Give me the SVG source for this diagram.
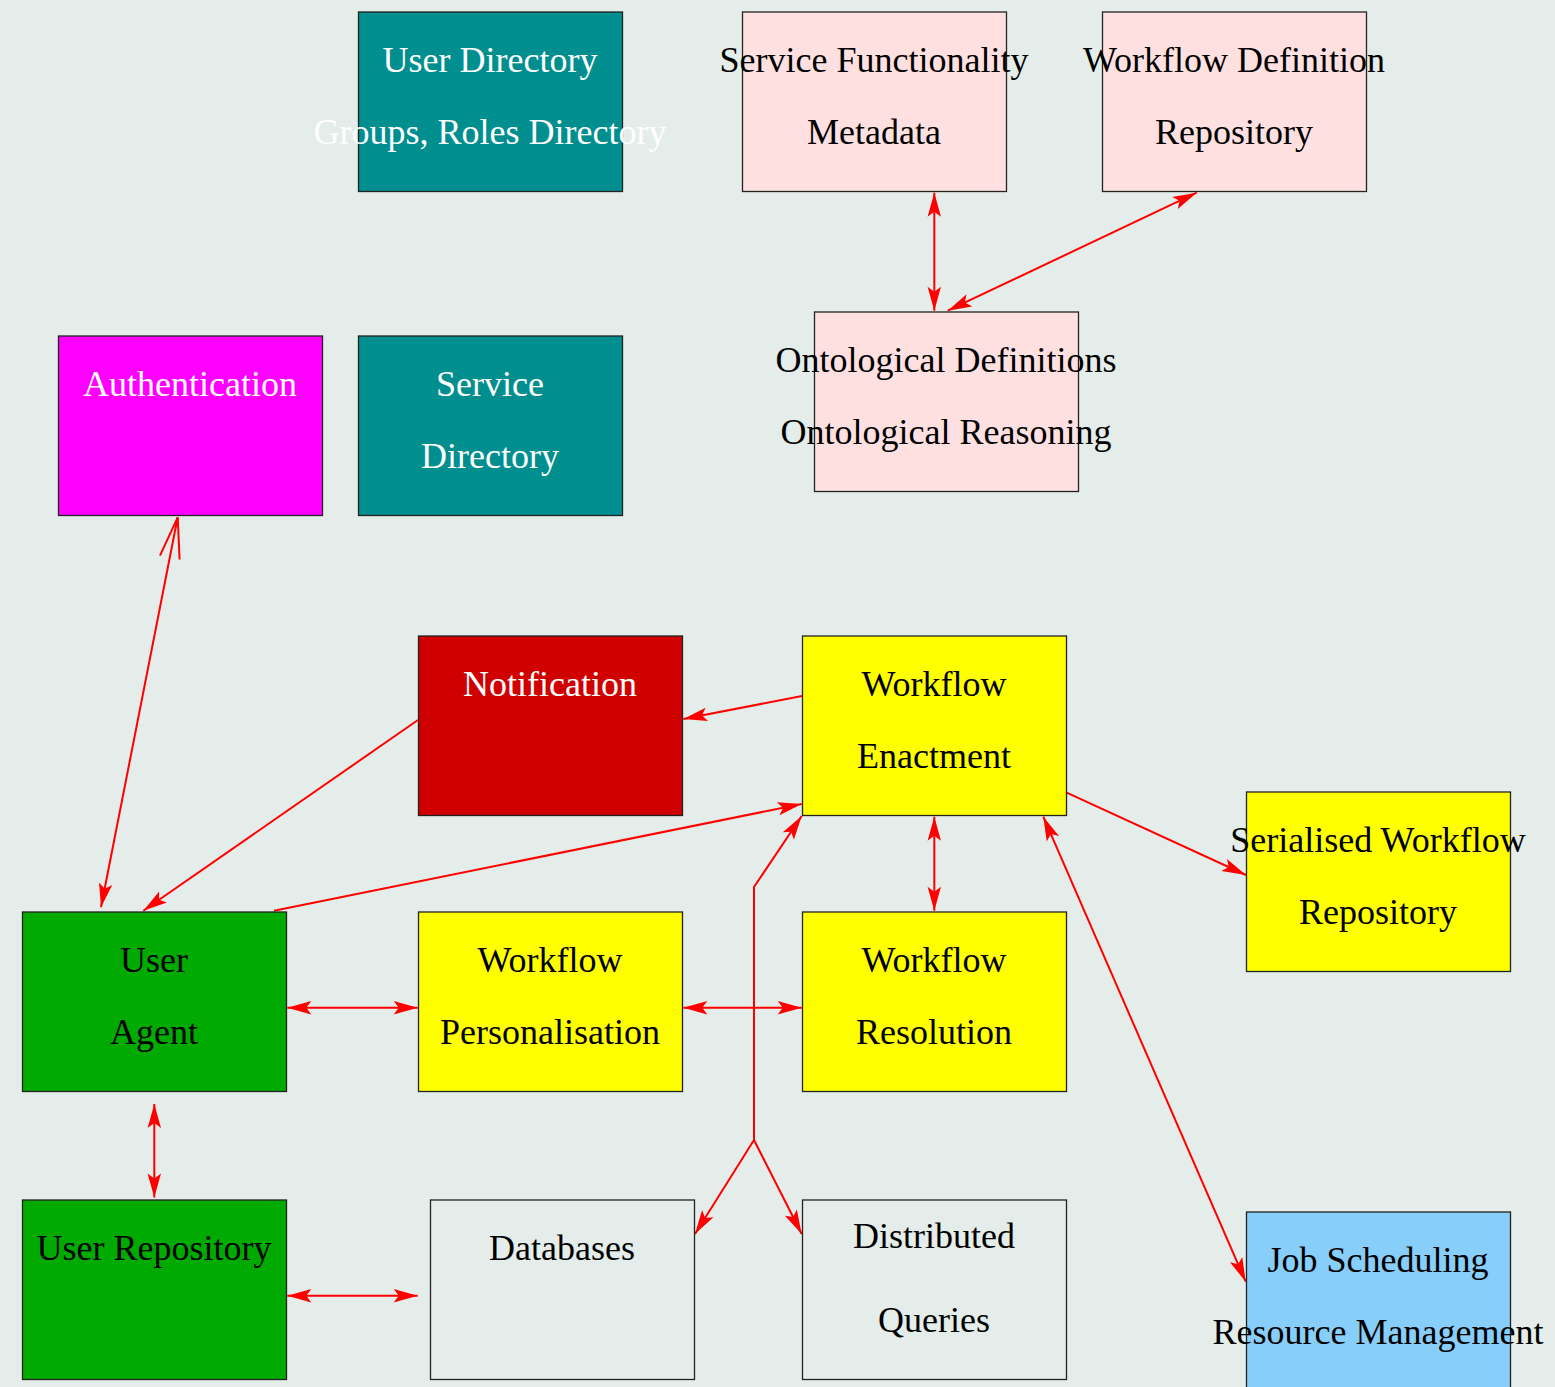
<svg xmlns="http://www.w3.org/2000/svg" width="1555" height="1387" viewBox="0 0 1555 1387">
<style>
.bx{stroke:#222;stroke-width:1.3}
.t{font-family:"Liberation Serif","Times New Roman",serif;font-size:36px;text-anchor:middle;fill:#000}
.w{fill:#fff}
.c{stroke:#ff0000;stroke-width:2;fill:none}
.teal{fill:#008e8e}.pink{fill:#ffe0e0}.mag{fill:#ff00ff}.red{fill:#d00000}.yel{fill:#ffff00}.grn{fill:#00aa00}.bg{fill:#e4ede9}.blue{fill:#87cefa}
</style>
<defs>
<marker id="st" markerUnits="userSpaceOnUse" markerWidth="26" markerHeight="16" viewBox="0 -8 26 16" refX="24" refY="0" orient="auto-start-reverse" overflow="visible">
<path d="M0,-6.7 L24,0 L0,6.7 L5,0 Z" fill="#ff0000"/>
</marker>
<marker id="vee" markerUnits="userSpaceOnUse" markerWidth="44" markerHeight="24" viewBox="-42 -12 44 24" refX="0" refY="0" orient="auto-start-reverse" overflow="visible">
<path d="M-41,-10 L0,0 L-41,10" fill="none" stroke="#ff0000" stroke-width="2"/>
</marker>
</defs>
<rect width="1555" height="1387" fill="#e4ede9"/>
<g id="connectors">
<path class="c" d="M934.3,192.7 L934.3,310.7" marker-start="url(#st)" marker-end="url(#st)"/>
<path class="c" d="M1196.7,192.7 L947.7,310.7" marker-start="url(#st)" marker-end="url(#st)"/>
<path class="c" d="M101,907.3 L177.7,517.3" marker-start="url(#st)" marker-end="url(#vee)"/>
<path class="c" d="M418,720 L143.3,910.7" marker-end="url(#st)"/>
<path class="c" d="M802,696 L683.3,719" marker-end="url(#st)"/>
<path class="c" d="M274,910.7 L801.7,804" marker-end="url(#st)"/>
<path class="c" d="M1066.7,792.7 L1246,875" marker-end="url(#st)"/>
<path class="c" d="M934.3,816.7 L934.3,910.7" marker-start="url(#st)" marker-end="url(#st)"/>
<path class="c" d="M287.3,1007.7 L417.7,1007.7" marker-start="url(#st)" marker-end="url(#st)"/>
<path class="c" d="M683.3,1007.7 L801.7,1007.7" marker-start="url(#st)" marker-end="url(#st)"/>
<path class="c" d="M154.3,1104 L154.3,1197.5" marker-start="url(#st)" marker-end="url(#st)"/>
<path class="c" d="M287.3,1295.7 L417.7,1295.7" marker-start="url(#st)" marker-end="url(#st)"/>
<path class="c" d="M1043.3,816.7 L1245.7,1281.7" marker-start="url(#st)" marker-end="url(#st)"/>
<path class="c" d="M754,1140 L754,887 L801.7,816" marker-end="url(#st)"/>
<path class="c" d="M754,1140 L695,1234" marker-end="url(#st)"/>
<path class="c" d="M754,1140 L801.7,1234" marker-end="url(#st)"/>
</g>
<g id="user-directory"><rect class="bx teal" x="358.5" y="12" width="264" height="179.5"/><text class="t w" x="490" y="72">User Directory</text><text class="t w" x="490" y="144">Groups, Roles Directory</text></g>
<g id="service-functionality"><rect class="bx pink" x="742.5" y="12" width="264" height="179.5"/><text class="t" x="874" y="72">Service Functionality</text><text class="t" x="874" y="144">Metadata</text></g>
<g id="workflow-definition"><rect class="bx pink" x="1102.5" y="12" width="264" height="179.5"/><text class="t" x="1234" y="72">Workflow Definition</text><text class="t" x="1234" y="144">Repository</text></g>
<g id="ontological"><rect class="bx pink" x="814.5" y="312" width="264" height="179.5"/><text class="t" x="946" y="372">Ontological Definitions</text><text class="t" x="946" y="444">Ontological Reasoning</text></g>
<g id="authentication"><rect class="bx mag" x="58.5" y="336" width="264" height="179.5"/><text class="t w" x="190" y="396">Authentication</text></g>
<g id="service-directory"><rect class="bx teal" x="358.5" y="336" width="264" height="179.5"/><text class="t w" x="490" y="396">Service</text><text class="t w" x="490" y="468">Directory</text></g>
<g id="notification"><rect class="bx red" x="418.5" y="636" width="264" height="179.5"/><text class="t w" x="550" y="696">Notification</text></g>
<g id="workflow-enactment"><rect class="bx yel" x="802.5" y="636" width="264" height="179.5"/><text class="t" x="934" y="696">Workflow</text><text class="t" x="934" y="768">Enactment</text></g>
<g id="serialised-workflow"><rect class="bx yel" x="1246.5" y="792" width="264" height="179.5"/><text class="t" x="1378" y="852">Serialised Workflow</text><text class="t" x="1378" y="924">Repository</text></g>
<g id="user-agent"><rect class="bx grn" x="22.5" y="912" width="264" height="179.5"/><text class="t" x="154" y="972">User</text><text class="t" x="154" y="1044">Agent</text></g>
<g id="workflow-personalisation"><rect class="bx yel" x="418.5" y="912" width="264" height="179.5"/><text class="t" x="550" y="972">Workflow</text><text class="t" x="550" y="1044">Personalisation</text></g>
<g id="workflow-resolution"><rect class="bx yel" x="802.5" y="912" width="264" height="179.5"/><text class="t" x="934" y="972">Workflow</text><text class="t" x="934" y="1044">Resolution</text></g>
<g id="user-repository"><rect class="bx grn" x="22.5" y="1200" width="264" height="179.5"/><text class="t" x="154" y="1260">User Repository</text></g>
<g id="databases"><rect class="bx bg" x="430.5" y="1200" width="264" height="179.5"/><text class="t" x="562" y="1260">Databases</text></g>
<g id="distributed-queries"><rect class="bx bg" x="802.5" y="1200" width="264" height="179.5"/><text class="t" x="934" y="1248">Distributed</text><text class="t" x="934" y="1332">Queries</text></g>
<g id="job-scheduling"><rect class="bx blue" x="1246.5" y="1212" width="264" height="179.5"/><text class="t" x="1378" y="1272">Job Scheduling</text><text class="t" x="1378" y="1344">Resource Management</text></g>
</svg>
